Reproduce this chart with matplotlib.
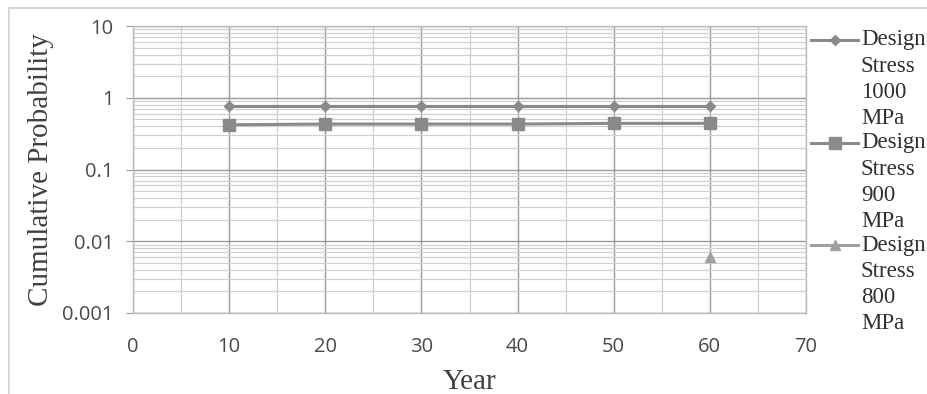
import matplotlib
matplotlib.use("Agg")
import matplotlib.pyplot as plt
from matplotlib.ticker import LogLocator, FixedLocator, NullFormatter
from matplotlib.patches import Rectangle
from matplotlib.lines import Line2D

years = [10, 20, 30, 40, 50, 60]
s1000 = [0.77, 0.77, 0.77, 0.77, 0.77, 0.77]
s900 = [0.42, 0.43, 0.43, 0.43, 0.44, 0.44]
years800 = [60]
s800 = [0.006]
labels = [["Design", "Stress", "1000", "MPa"],
          ["Design", "Stress", "900", "MPa"],
          ["Design", "Stress", "800", "MPa"]]
ytick_vals = [0.001, 0.01, 0.1, 1, 10]
ytick_labels = ["0.001", "0.01", "0.1", "1", "10"]
xtick_vals = [0, 10, 20, 30, 40, 50, 60, 70]

fig = plt.figure(figsize=(9.28, 3.94), dpi=100)
fig.patch.set_facecolor("white")
fig.add_artist(Rectangle((9/928, -0.1), 1.2, 1 - 8/394 + 0.1, transform=fig.transFigure,
                         fill=False, edgecolor="#cfcfcf", linewidth=1.2))
ax = fig.add_axes([133/928, 1 - 313/394, (806 - 133)/928, (313 - 26)/394])

col = "#8a8a8a"
ax.plot(years, s1000, color=col, lw=2.2, marker="D", ms=5, mfc=col, mec=col)
ax.plot(years, s900, color=col, lw=2.2, marker="s", ms=8.5, mfc=col, mec=col)
ax.plot(years800, s800, color="#a0a0a0", lw=2.2, marker="^", ms=7, mfc="#a0a0a0", mec="#a0a0a0", ls="none")

ax.set_yscale("log")
ax.set_ylim(0.001, 10)
ax.set_xlim(0, 70)
ax.yaxis.set_major_locator(FixedLocator(ytick_vals))
ax.set_yticklabels(ytick_labels)
ax.yaxis.set_minor_locator(LogLocator(base=10, subs=range(2, 10)))
ax.yaxis.set_minor_formatter(NullFormatter())
ax.set_xticks(xtick_vals)
ax.set_xticks([5, 15, 25, 35, 45, 55, 65], minor=True)

ax.grid(True, which="major", axis="both", color="#9a9a9a", lw=1.0)
ax.grid(True, which="minor", axis="y", color="#d0d0d0", lw=0.9)
ax.grid(True, which="minor", axis="x", color="#d0d0d0", lw=0.9)
ax.set_axisbelow(True)
for sp in ax.spines.values():
    sp.set_color("#bdbdbd")
    sp.set_linewidth(1.0)
ax.tick_params(axis="both", which="both", length=0, labelsize=14.5, colors="#4a4a4a")
ax.tick_params(axis="y", which="major", length=5, color="#9a9a9a", pad=9)
ax.tick_params(axis="x", pad=17)
for t in ax.get_xticklabels() + ax.get_yticklabels():
    t.set_fontfamily("Open Sans")

ax.set_ylabel("Cumulative Probability", fontsize=21, family="Liberation Serif", color="#404040", labelpad=6)
ax.set_xlabel("Year", fontsize=21, family="Liberation Serif", color="#404040", labelpad=9)

# legend drawn manually in figure coordinates
markers = [("D", 5, col), ("s", 8.5, col), ("^", 7, "#a0a0a0")]
ys_top = [40, 143, 245]
for (m, ms, c), lines, yt in zip(markers, labels, ys_top):
    yf = 1 - yt / 394
    fig.add_artist(Line2D([811/928, 858/928], [yf, yf], transform=fig.transFigure,
                          color=c, lw=2.2))
    fig.add_artist(Line2D([835/928], [yf], transform=fig.transFigure, marker=m, ms=ms,
                          color=c, mfc=c, mec=c))
    for i, ln in enumerate(lines):
        fig.text(861/928, 1 - (yt + i * 26.3) / 394, ln, transform=fig.transFigure,
                 ha="left", va="center", fontsize=16.5, fontfamily="Liberation Serif", color="#303030")

fig.savefig("out.png", dpi=100, facecolor="white")
